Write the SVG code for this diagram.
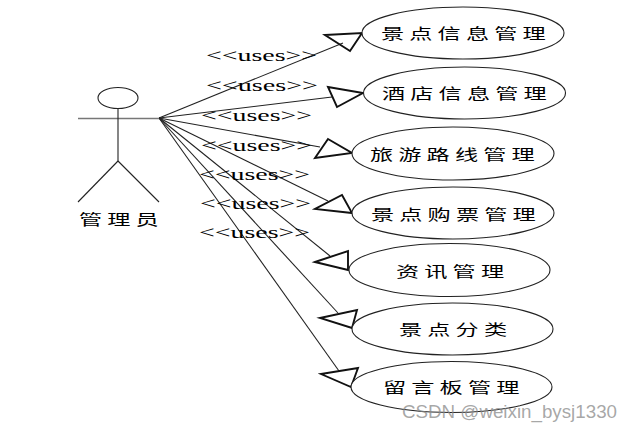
<svg xmlns="http://www.w3.org/2000/svg" width="633" height="431" viewBox="0 0 633 431">
<style>
.bg{fill:#fff}
.uc{fill:#fff;stroke:#222;stroke-width:1.1}
.ln{stroke:#222;stroke-width:1.1;fill:none}
.arm{stroke:#777;stroke-width:1.5;fill:none}
.tri{fill:none;stroke:#111;stroke-width:1.9;stroke-linejoin:miter}
.zh{font-family:"Noto Sans CJK SC","Noto Sans",sans-serif;font-size:14.5px;letter-spacing:3.2px;fill:#000}
.uses{font-family:"Liberation Serif",serif;font-size:17px;fill:#000}
.wm{font-family:"Liberation Sans",Arial,sans-serif;font-size:18px;fill:#8a8a8a;fill-opacity:.75}
</style>
<rect class="bg" width="633" height="431"/>
<g id="connectors">
<line class="ln" x1="159" y1="118" x2="343" y2="43"/>
<line class="ln" x1="159" y1="118" x2="332" y2="97"/>
<line class="ln" x1="159" y1="118" x2="320" y2="147"/>
<line class="ln" x1="159" y1="118" x2="328" y2="201"/>
<line class="ln" x1="159" y1="118" x2="330" y2="256"/>
<line class="ln" x1="159" y1="118" x2="338" y2="313"/>
<line class="ln" x1="159" y1="118" x2="339" y2="371"/>
<polygon class="tri" points="325,35 362,33 350,51"/>
<polygon class="tri" points="328,87 363,93 337,107"/>
<polygon class="tri" points="328,139 352,153 315,158"/>
<polygon class="tri" points="342,195 352,213 315,209"/>
<polygon class="tri" points="315,262 348,251 348,270"/>
<polygon class="tri" points="320,318 357,310 352,328"/>
<polygon class="tri" points="321,374 358,368 351,387"/>
<text class="uses" x="206" y="61" textLength="111" lengthAdjust="spacingAndGlyphs">&lt;&lt;uses&gt;&gt;</text>
<text class="uses" x="206" y="91" textLength="112" lengthAdjust="spacingAndGlyphs">&lt;&lt;uses&gt;&gt;</text>
<text class="uses" x="201" y="121" textLength="111" lengthAdjust="spacingAndGlyphs">&lt;&lt;uses&gt;&gt;</text>
<text class="uses" x="201" y="151" textLength="111" lengthAdjust="spacingAndGlyphs">&lt;&lt;uses&gt;&gt;</text>
<text class="uses" x="199" y="180" textLength="111" lengthAdjust="spacingAndGlyphs">&lt;&lt;uses&gt;&gt;</text>
<text class="uses" x="200" y="209" textLength="111" lengthAdjust="spacingAndGlyphs">&lt;&lt;uses&gt;&gt;</text>
<text class="uses" x="199" y="238" textLength="111" lengthAdjust="spacingAndGlyphs">&lt;&lt;uses&gt;&gt;</text>
</g>
<g id="actor">
<ellipse class="ln" cx="118" cy="98" rx="20" ry="10.5"/>
<line class="arm" x1="78" y1="118.5" x2="159" y2="118.5"/>
<line class="ln" x1="118" y1="108.5" x2="118" y2="161"/>
<line class="ln" x1="118" y1="161" x2="78" y2="202"/>
<line class="ln" x1="118" y1="161" x2="159" y2="202"/>
<text class="zh" transform="translate(79,225) scale(1.6,1)">管理员</text>
</g>
<g id="uc1"><ellipse class="uc" cx="463" cy="33" rx="101" ry="26"/><text class="zh" transform="translate(381,39) scale(1.6,1)">景点信息管理</text></g>
<g id="uc2"><ellipse class="uc" cx="464.5" cy="93" rx="101" ry="26"/><text class="zh" transform="translate(382,99) scale(1.6,1)">酒店信息管理</text></g>
<g id="uc3"><ellipse class="uc" cx="453" cy="153.5" rx="101" ry="26.5"/><text class="zh" transform="translate(370,160) scale(1.6,1)">旅游路线管理</text></g>
<g id="uc4"><ellipse class="uc" cx="453" cy="213" rx="101" ry="26"/><text class="zh" transform="translate(371,220) scale(1.6,1)">景点购票管理</text></g>
<g id="uc5"><ellipse class="uc" cx="449.5" cy="270" rx="100.5" ry="26.5"/><text class="zh" transform="translate(396,277) scale(1.6,1)">资讯管理</text></g>
<g id="uc6"><ellipse class="uc" cx="452.5" cy="329" rx="100.5" ry="26"/><text class="zh" transform="translate(399,335) scale(1.6,1)">景点分类</text></g>
<g id="uc7"><ellipse class="uc" cx="451.5" cy="387" rx="100.5" ry="25.5"/><text class="zh" transform="translate(383,393) scale(1.6,1)">留言板管理</text></g>
<text class="wm" x="402" y="418" textLength="215" lengthAdjust="spacingAndGlyphs">CSDN @weixin_bysj1330</text>
</svg>
